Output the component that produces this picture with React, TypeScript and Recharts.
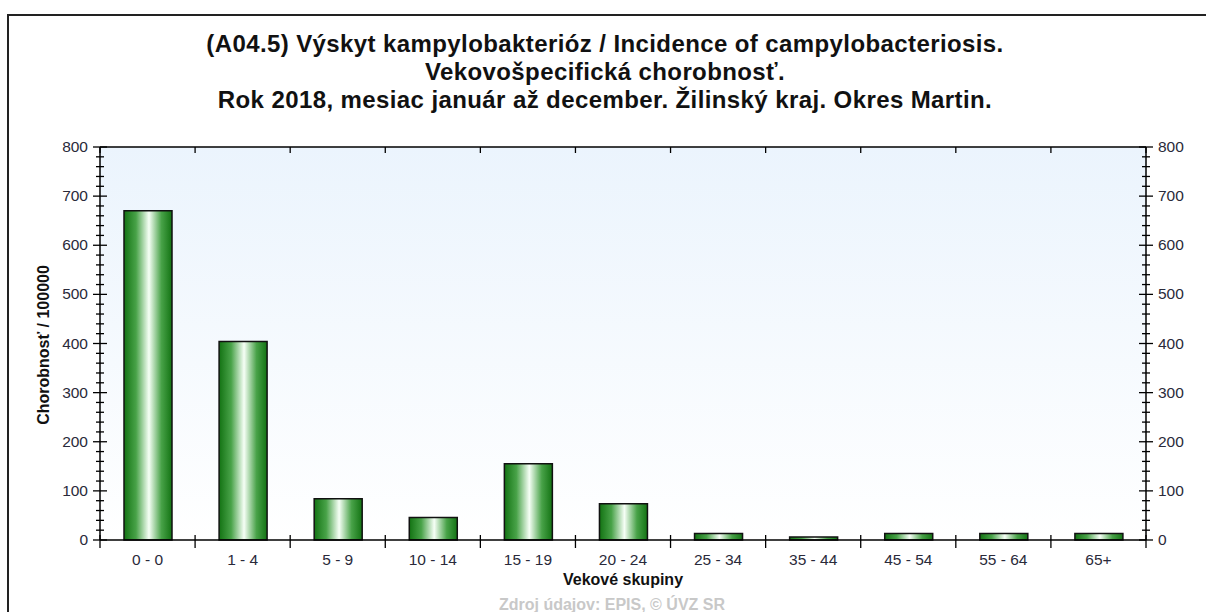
import React from "react";
import {
  ComposedChart,
  Bar,
  XAxis,
  YAxis,
  CartesianGrid,
  ReferenceLine,
} from "recharts";

const ageGroups = [
  "0 - 0",
  "1 - 4",
  "5 - 9",
  "10 - 14",
  "15 - 19",
  "20 - 24",
  "25 - 34",
  "35 - 44",
  "45 - 54",
  "55 - 64",
  "65+",
];

const incidence = [670, 404, 84, 46, 155, 74, 13, 6, 13, 13, 13];

const yTicks = [
  0, 20, 40, 60, 80, 100, 120, 140, 160, 180, 200, 220, 240, 260, 280, 300,
  320, 340, 360, 380, 400, 420, 440, 460, 480, 500, 520, 540, 560, 580, 600,
  620, 640, 660, 680, 700, 720, 740, 760, 780, 800,
];

const data = ageGroups.map((name, i) => ({ name, value: incidence[i] }));

const W = 1206;
const H = 612;
const PLOT_LEFT = 100;
const PLOT_RIGHT = 1146;
const PLOT_TOP = 147;
const PLOT_BOTTOM = 540;
const PLOT_H = PLOT_BOTTOM - PLOT_TOP;
const BAND = (PLOT_RIGHT - PLOT_LEFT) / ageGroups.length;
const AXIS_W = 60;
const XAXIS_H = 40;

const font = "'Liberation Sans', Arial, sans-serif";

const makeYTick = (side: "left" | "right") => (props: any) => {
  const { x, y, payload } = props;
  const v = payload.value;
  const major = v % 100 === 0;
  const ax = side === "left" ? x + 12 : x - 12;
  const len = major ? 7 : 4;
  return (
    <g>
      <line x1={ax - len} x2={ax + len} y1={y} y2={y} stroke="#000" strokeWidth={1.3} />
      {major && (
        <text
          x={x}
          y={y}
          dy={5}
          textAnchor={side === "left" ? "end" : "start"}
          style={{ fontSize: "15.5px", fontFamily: font }}
          fill="#2a2a3a"
        >
          {v}
        </text>
      )}
    </g>
  );
};

const XTick = (props: any) => {
  const { x, y, payload, index } = props;
  const axisY = y - 14;
  const topY = axisY - PLOT_H;
  const bounds = [x - BAND / 2];
  if (index === ageGroups.length - 1) bounds.push(x + BAND / 2);
  return (
    <g>
      {bounds.map((bx, i) => (
        <g key={i}>
          <line x1={bx} x2={bx} y1={axisY - 5} y2={axisY + 8} stroke="#000" strokeWidth={1.3} />
          <line x1={bx} x2={bx} y1={topY} y2={topY + 6} stroke="#000" strokeWidth={1.3} />
        </g>
      ))}
      <text
        x={x}
        y={y}
        dy={11}
        textAnchor="middle"
        style={{ fontSize: "15.5px", fontFamily: font }}
        fill="#2a2a3a"
      >
        {payload.value}
      </text>
    </g>
  );
};

const App: React.FC = () => {
  return (
    <div
      style={{
        position: "absolute",
        left: 0,
        top: 0,
        width: W,
        height: H,
        background: "#fff",
        overflow: "hidden",
        fontFamily: font,
      }}
    >
      <div
        style={{
          position: "absolute",
          left: 7,
          top: 14,
          width: W,
          height: H,
          borderLeft: "2px solid #222",
          borderTop: "2px solid #222",
        }}
      />
      <div
        style={{
          position: "absolute",
          left: 0,
          top: 30,
          width: 1210,
          textAlign: "center",
          fontWeight: "bold",
          fontSize: 24,
          letterSpacing: 0.4,
          lineHeight: "28px",
          color: "#111",
        }}
      >
        <div>(A04.5) Výskyt kampylobakterióz / Incidence of campylobacteriosis.</div>
        <div>Vekovošpecifická chorobnosť.</div>
        <div>Rok 2018, mesiac január až december. Žilinský kraj. Okres Martin.</div>
      </div>
      <div style={{ position: "absolute", left: 0, top: 0 }}>
        <ComposedChart
          width={W}
          height={H}
          data={data}
          margin={{
            top: PLOT_TOP,
            right: W - PLOT_RIGHT - AXIS_W,
            bottom: H - PLOT_BOTTOM - XAXIS_H,
            left: PLOT_LEFT - AXIS_W,
          }}
        >
          <defs>
            <linearGradient id="bgGrad" x1="0" y1="0" x2="0" y2="1">
              <stop offset="0%" stopColor="#ebf4fd" />
              <stop offset="100%" stopColor="#ffffff" />
            </linearGradient>
            <linearGradient id="barGrad" x1="0" y1="0" x2="1" y2="0">
              <stop offset="0%" stopColor="#137313" />
              <stop offset="25%" stopColor="#48a248" />
              <stop offset="52%" stopColor="#f6fff6" />
              <stop offset="78%" stopColor="#48a248" />
              <stop offset="100%" stopColor="#137313" />
            </linearGradient>
          </defs>
          <CartesianGrid
            yAxisId="l"
            horizontal={false}
            vertical={false}
            fill="url(#bgGrad)"
          />
          <XAxis
            dataKey="name"
            height={XAXIS_H}
            interval={0}
            tickSize={6}
            tickMargin={8}
            tickLine={false}
            axisLine={{ stroke: "#000", strokeWidth: 1.5 }}
            tick={XTick}
          />
          <YAxis
            yAxisId="l"
            orientation="left"
            width={AXIS_W}
            domain={[0, 800]}
            ticks={yTicks}
            interval={0}
            tickSize={6}
            tickMargin={6}
            tickLine={false}
            axisLine={{ stroke: "#000", strokeWidth: 1.5 }}
            tick={makeYTick("left")}
          />
          <YAxis
            yAxisId="r"
            orientation="right"
            width={AXIS_W}
            domain={[0, 800]}
            allowDataOverflow
            ticks={yTicks}
            interval={0}
            tickSize={6}
            tickMargin={6}
            tickLine={false}
            axisLine={{ stroke: "#000", strokeWidth: 1.5 }}
            tick={makeYTick("right")}
          />
          <ReferenceLine yAxisId="l" y={800} stroke="#000" strokeWidth={1.5} />
          <Bar
            yAxisId="l"
            dataKey="value"
            barSize={48}
            fill="url(#barGrad)"
            stroke="#111"
            strokeWidth={1.5}
            isAnimationActive={false}
          />
        </ComposedChart>
      </div>
      <div
        style={{
          position: "absolute",
          left: 20,
          top: 345,
          width: 0,
          height: 0,
        }}
      >
        <div
          style={{
            position: "absolute",
            left: 24,
            top: 0,
            transform: "translate(-50%, -50%) rotate(-90deg)",
            whiteSpace: "nowrap",
            fontWeight: "bold",
            fontSize: 16,
            color: "#111",
          }}
        >
          Chorobnosť / 100000
        </div>
      </div>
      <div
        style={{
          position: "absolute",
          left: PLOT_LEFT,
          width: PLOT_RIGHT - PLOT_LEFT,
          top: 571,
          textAlign: "center",
          fontWeight: "bold",
          fontSize: 16,
          color: "#111",
        }}
      >
        Vekové skupiny
      </div>
      <div
        style={{
          position: "absolute",
          left: 0,
          width: 1224,
          top: 596,
          textAlign: "center",
          fontWeight: "bold",
          fontSize: 16,
          color: "#c8c8c8",
        }}
      >
        Zdroj údajov: EPIS, © ÚVZ SR
      </div>
    </div>
  );
};

export default App;
